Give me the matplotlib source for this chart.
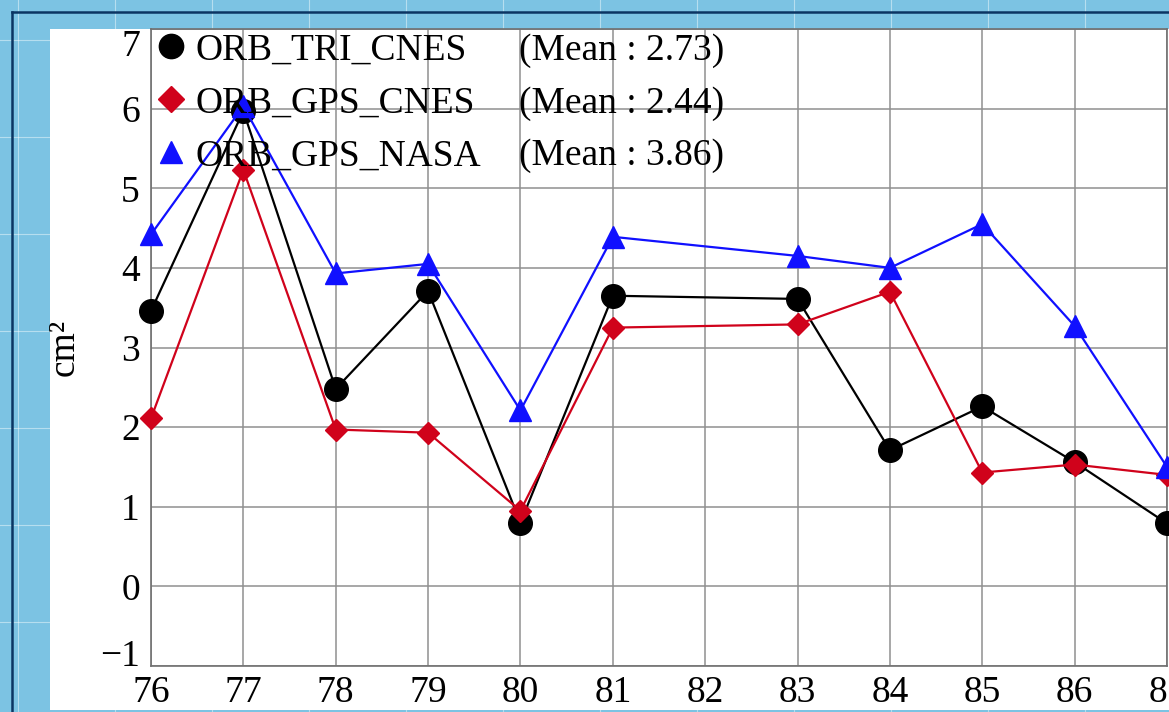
import numpy as np
import matplotlib
matplotlib.use("Agg")
from matplotlib import pyplot as plt
from matplotlib.lines import Line2D
from matplotlib.patches import Rectangle

# cycles (82 has no value for any orbit)
cycles = np.array([76, 77, 78, 79, 80, 81, 83, 84, 85, 86, 87])

orb_tri_cnes = np.array([3.46, 5.97, 2.48, 3.71, 0.80, 3.65, 3.61, 1.71, 2.26, 1.56, 0.79])
orb_gps_cnes = np.array([2.11, 5.23, 1.97, 1.93, 0.95, 3.25, 3.29, 3.70, 1.43, 1.53, 1.40])
orb_gps_nasa = np.array([4.42, 6.03, 3.93, 4.05, 2.21, 4.39, 4.15, 4.00, 4.55, 3.27, 1.50])

names = ["ORB_TRI_CNES", "ORB_GPS_CNES", "ORB_GPS_NASA"]
xticks = np.arange(76, 88)
yticks = np.arange(-1, 8)

plt.rcParams['font.family'] = ['Liberation Serif', 'DejaVu Serif']

fig = plt.figure(figsize=(11.69, 7.12), dpi=100)
fig.patch.set_facecolor('#7cc3e3')

# faint white grid on the blue background
for gx in np.arange(18, 1169, 97):
    fig.add_artist(Line2D([gx / 1169, gx / 1169], [0, 1], color='white', lw=0.8,
                          alpha=0.45, zorder=-3))
for gy in np.arange(40, 712, 97):
    fig.add_artist(Line2D([0, 1], [1 - gy / 712, 1 - gy / 712], color='white', lw=0.8,
                          alpha=0.45, zorder=-3))

# dark frame line
fig.add_artist(Line2D([12 / 1169, 12 / 1169], [0, 1 - 12 / 712], color='#0b3563',
                      lw=1.8, zorder=-2))
fig.add_artist(Line2D([12 / 1169, 1], [1 - 12 / 712, 1 - 12 / 712], color='#0b3563',
                      lw=1.8, zorder=-2))

# white panel behind the plot
fig.add_artist(Rectangle((50 / 1169, 2 / 712), 1.0, (710 - 29) / 712,
                         transform=fig.transFigure, facecolor='white',
                         edgecolor='none', zorder=-1))

ax = fig.add_axes([151 / 1169, 1 - 666 / 712, (1167 - 151) / 1169, (666 - 29) / 712])
ax.set_facecolor('white')

styles = [
    dict(color='black', marker='o', markersize=17),
    dict(color='#d0021b', marker='D', markersize=11.5),
    dict(color='#1010ff', marker='^', markersize=16),
]
series = [orb_tri_cnes, orb_gps_cnes, orb_gps_nasa]

for vals, st in zip(series, styles):
    ax.plot(cycles, vals, linewidth=1.6, color=st['color'], marker=st['marker'],
            markersize=st['markersize'], markerfacecolor=st['color'],
            markeredgecolor=st['color'], clip_on=False, zorder=3)

ax.set_xlim(76, 87)
ax.set_ylim(-1, 7)
ax.set_xticks(xticks)
ax.set_yticks(yticks)
ax.tick_params(length=0, labelsize=27, pad=7)
ax.tick_params(axis='y', pad=8)
ax.grid(True, color='#8f8f8f', linewidth=1.1)
ax.set_axisbelow(True)
for sp in ax.spines.values():
    sp.set_color('#707070')
    sp.set_linewidth(1.2)

ax.set_ylabel('cm²', fontsize=27)
ax.yaxis.set_label_coords(-0.068, 0.5)

leg_sizes = [17.5, 13.5, 15.5]
handles = [Line2D([], [], linestyle='none', marker=st['marker'], color=st['color'],
                  markersize=ms) for st, ms in zip(styles, leg_sizes)]
leg = ax.legend(handles, names, loc='upper left', frameon=False, fontsize=27,
                handlelength=0.6, handletextpad=0.35, labelspacing=0.49,
                borderaxespad=0.0, borderpad=0.05, bbox_to_anchor=(0.007, 0.9965))
leg.set_zorder(5)

# keep the end y labels inside the plot height
fig.canvas.draw()
ylabels = ax.get_yticklabels()
ylabels[0].set_verticalalignment('baseline')
ylabels[-1].set_verticalalignment('top')

# mean values, one per legend row
inv = ax.transAxes.inverted()
for txt, vals in zip(leg.get_texts(), series):
    bb = txt.get_window_extent()
    yc = inv.transform(((bb.x0 + bb.x1) / 2, (bb.y0 + bb.y1) / 2))[1]
    ax.text(0.362, yc, '(Mean : %.2f)' % vals.mean(), transform=ax.transAxes,
            fontsize=27, va='center', ha='left', zorder=5)

fig.savefig('out.png', dpi=100, facecolor=fig.get_facecolor())
